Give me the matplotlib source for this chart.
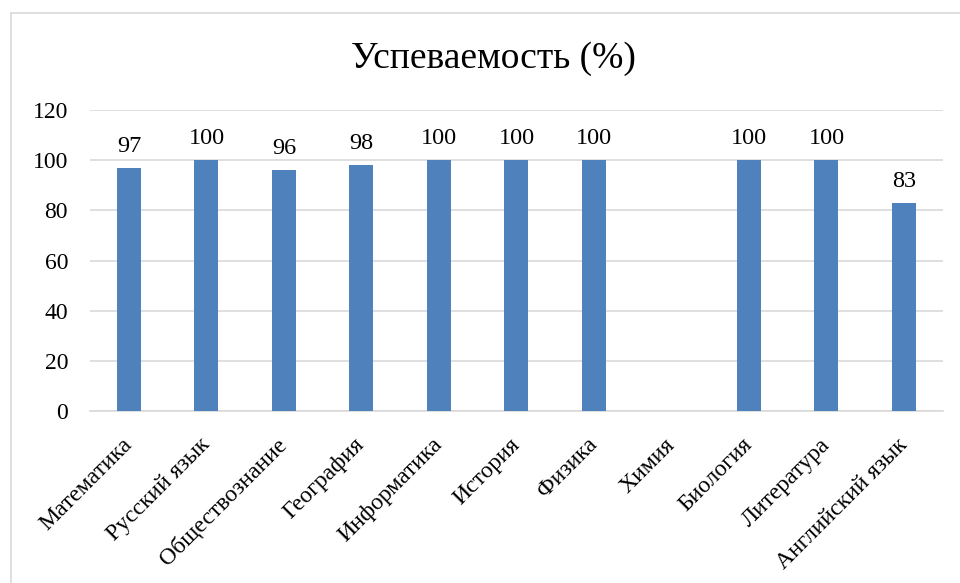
import matplotlib.pyplot as plt
from matplotlib.lines import Line2D

subjects = ['Математика', 'Русский язык', 'Обществознание', 'География',
            'Информатика', 'История', 'Физика', 'Химия', 'Биология',
            'Литература', 'Английский язык']
values = [97, 100, 96, 98, 100, 100, 100, None, 100, 100, 83]
yticks = [0, 20, 40, 60, 80, 100, 120]

plt.rcParams['font.family'] = ['Liberation Serif', 'DejaVu Serif']

fig = plt.figure(figsize=(9.6, 5.83), dpi=100)
ax = fig.add_axes([0.094, 0.295, 0.888, 0.516])

x = list(range(len(subjects)))
heights = [v if v is not None else 0 for v in values]
ax.bar(x, heights, width=0.31, color='#4f81bd', zorder=3)
for xi, v in zip(x, values):
    if v is not None:
        ax.annotate(str(v), (xi, v), xytext=(0, 8), textcoords='offset points',
                    ha='center', va='bottom', fontsize=17.5)

ax.set_xlim(-0.5, len(subjects) - 0.5)
ax.set_ylim(0, 120)
ax.set_yticks(yticks)
ax.set_yticklabels([str(t) for t in yticks], fontsize=17)
ax.set_xticks(x)
ax.set_xticklabels(subjects, rotation=45, ha='right', va='center',
                   rotation_mode='anchor', fontsize=17)
ax.tick_params(axis='x', length=0, pad=22)
ax.tick_params(axis='y', length=0, pad=16)
ax.grid(axis='y', color='#d9d9d9', linewidth=1.2, zorder=0)
for s in ['top', 'right', 'left']:
    ax.spines[s].set_visible(False)
ax.spines['bottom'].set_color('#d9d9d9')
ax.spines['bottom'].set_linewidth(1.2)

fig.text(0.514, 0.899, 'Успеваемость (%)', ha='center', va='center', fontsize=27)

# outer chart frame
fig.add_artist(Line2D([11 / 960, 11 / 960], [0, 1 - 13 / 583], transform=fig.transFigure, color='#d9d9d9', lw=1.2))
fig.add_artist(Line2D([11 / 960, 1], [1 - 13 / 583, 1 - 13 / 583], transform=fig.transFigure, color='#d9d9d9', lw=1.2))

fig.savefig('out.png', dpi=100)
